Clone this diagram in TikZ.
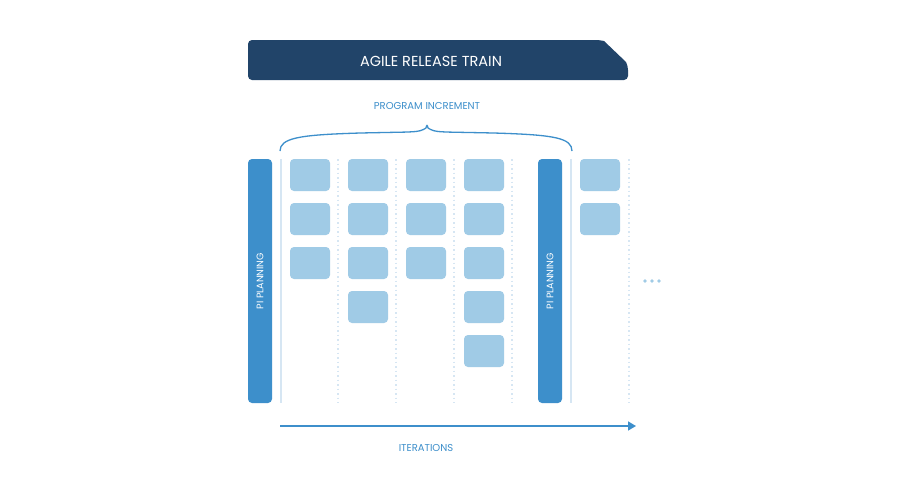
\documentclass[tikz,border=0pt]{standalone}
\usepackage{fontspec}
\setmainfont{Poppins}
\usetikzlibrary{decorations.pathreplacing,arrows.meta}
\definecolor{navy}{HTML}{214469}
\definecolor{pib}{HTML}{3D8FCB}
\definecolor{card}{HTML}{A0CBE6}
\definecolor{lline}{HTML}{D6E6F3}
\tikzset{
  px/.style={x=1pt,y=-1pt},
  cardbox/.style={fill=card,rounded corners=4pt,draw=none},
  pibar/.style={fill=pib,rounded corners=4pt,draw=none},
  solidsep/.style={draw=lline,line width=1.5pt},
  dotsep/.style={draw=lline,line width=1.5pt,dash pattern=on 1.5pt off 3pt},
  lbl/.style={text=pib,font=\fontsize{10}{12}\selectfont},
}
\begin{document}
\begin{tikzpicture}[px]
\useasboundingbox (0,0) rectangle (900,480);
\fill[white] (0,0) rectangle (900,480);
% header
\fill[navy,rounded corners=4pt] (248,80) -- (248,40) -- (600,40) [sharp corners]-- (604,41) -- (626,62) [rounded corners=4pt] -- (628,66) -- (628,80) -- cycle;
\node[text=white,font=\fontsize{14.5}{16}\selectfont] (title) at (431,61) {AGILE RELEASE TRAIN};
\node[lbl] (pi) at (427,106) {PROGRAM INCREMENT};
\coordinate (bl) at (280,151);
\coordinate (br) at (572,151);
\draw[pib,line width=1.3pt,rounded corners=6pt] (bl) .. controls (280,138) and (300,135) .. (360,133) -- (410,132) .. controls (422,131) and (426,128) .. (427,122) .. controls (428,128) and (432,131) .. (444,132) -- (494,133) .. controls (554,135) and (572,138) .. (br);
% separators
\foreach \x in {281,571} \draw[solidsep] (\x,159) -- (\x,403);
\foreach \x in {338,396,454,512,629} \draw[dotsep] (\x,159) -- (\x,403);
% PI planning bars
\fill[pibar] (248,159) rectangle (272,403);
\fill[pibar] (538,159) rectangle (562,403);
\node[text=white,rotate=90,font=\fontsize{9.5}{11}\selectfont] (pp1) at (260,281) {PI PLANNING};
\node[text=white,rotate=90,font=\fontsize{9.5}{11}\selectfont] (pp2) at (550,281) {PI PLANNING};
% cards
\foreach \x/\n in {290/3,348/4,406/3,464/5,580/2}{
  \foreach \i in {1,...,\n}{
    \fill[cardbox] (\x,{159+44*(\i-1)}) rectangle ++(40,32);
  }
}
% dots
\foreach \x in {645,652,659} \fill[card] (\x,281) circle (1.8);
% arrow
\coordinate (a1) at (280,426);
\coordinate (a2) at (636,426);
\draw[pib,line width=1.5pt,-{Triangle[length=8pt,width=9pt]}] (a1) -- (a2);
\node[lbl] (it) at (426,448) {ITERATIONS};
\end{tikzpicture}
\end{document}
